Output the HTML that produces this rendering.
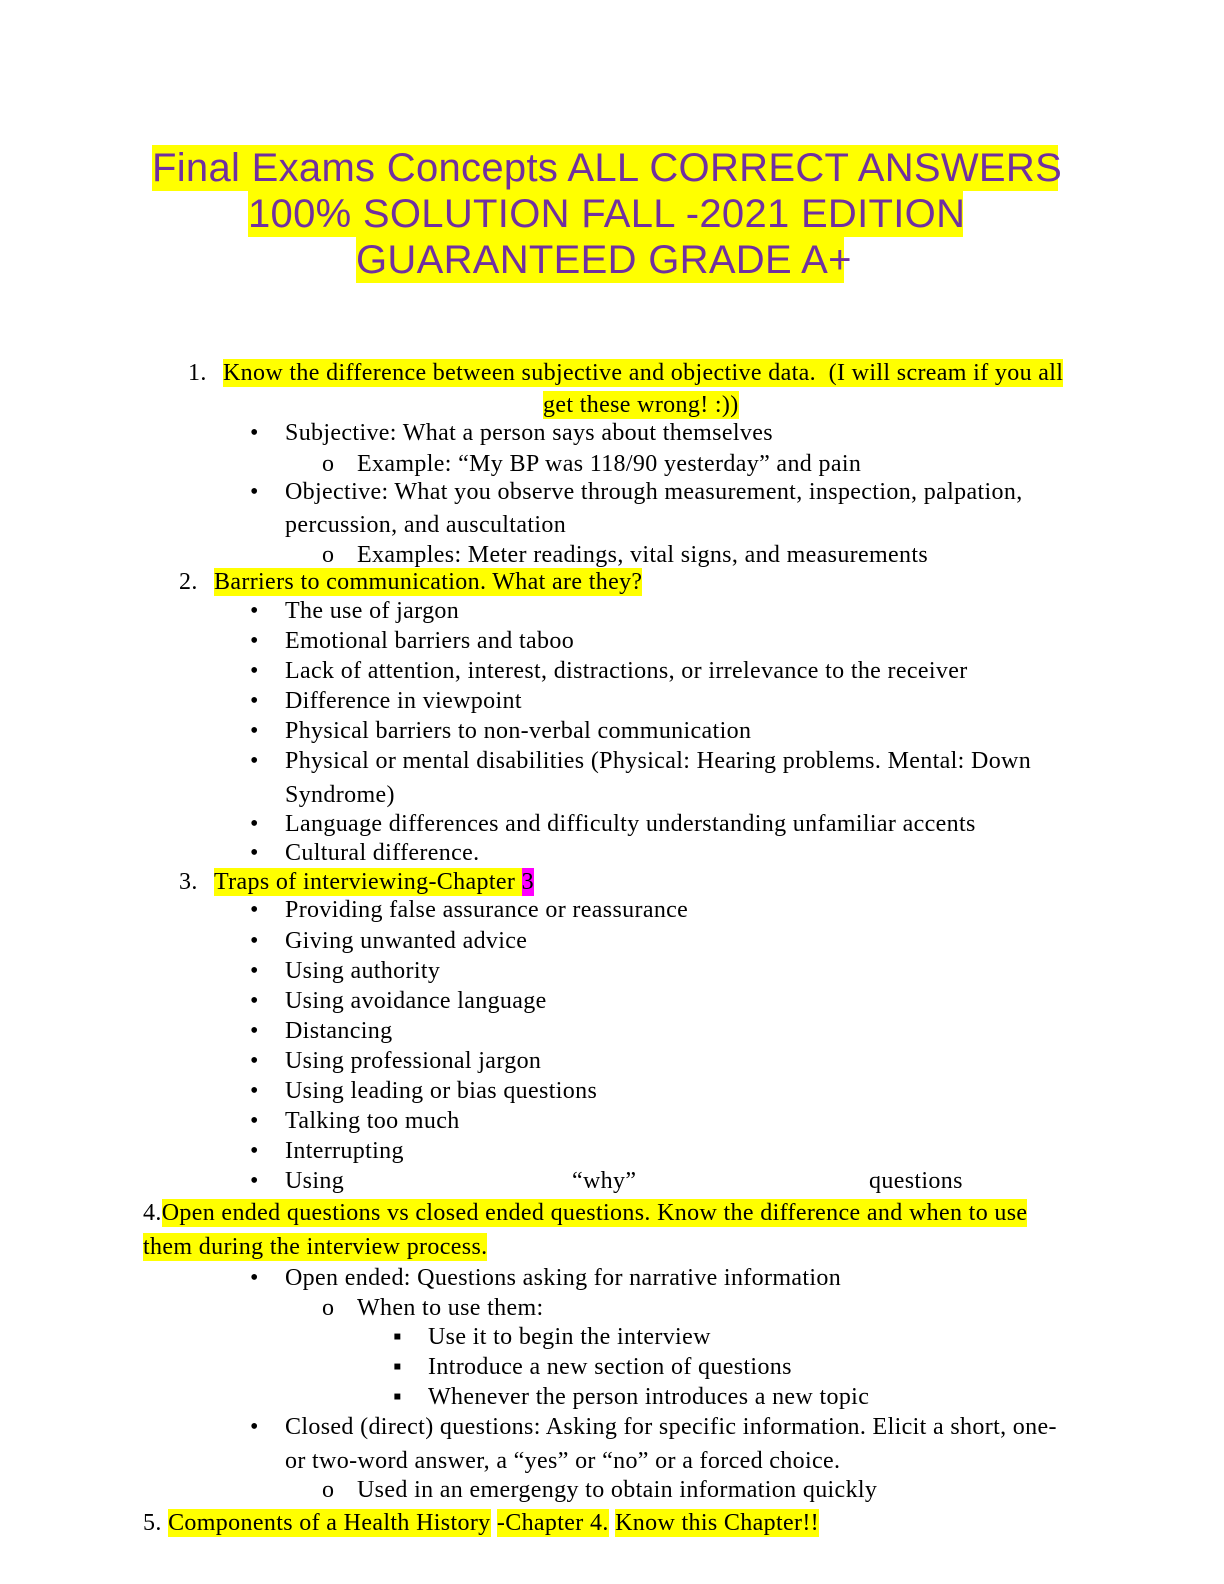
<!DOCTYPE html>
<html><head><meta charset="utf-8">
<style>
html,body{margin:0;padding:0;background:#fff;}
body{width:1224px;height:1584px;position:relative;overflow:hidden;}
.t{position:absolute;font-family:"Liberation Sans",sans-serif;font-size:40px;letter-spacing:0.3px;color:#7030A0;background:#ffff00;height:46px;line-height:46px;white-space:nowrap;margin-top:1px;}
.l{position:absolute;font-family:"Liberation Serif",serif;font-size:24px;letter-spacing:0.35px;color:#000;line-height:28px;height:28px;white-space:nowrap;margin-top:4px;}
.h{background:#ffff00;padding:1px 0;}
.m{background:#ff00ff;padding:1px 0;}
</style></head><body>
<div class="t" style="left:152px;top:144px;width:906px;text-align:center">Final Exams Concepts ALL CORRECT ANSWERS</div>
<div class="t" style="left:248px;top:190px;width:715px;text-align:center">100% SOLUTION FALL -2021 EDITION</div>
<div class="t" style="left:356px;top:236px;width:488px;text-align:center">GUARANTEED GRADE A+</div>

<div class="l" style="left:188px;top:355px">1.</div>
<div class="l" style="left:223px;top:355px"><span class="h">Know the difference between subjective and objective data.&nbsp; (I will scream if you all</span></div>
<div class="l" style="left:543px;top:387px"><span class="h">get these wrong! :))</span></div>
<div class="l" style="left:250px;top:415px">•</div><div class="l" style="left:285px;top:415px">Subjective: What a person says about themselves</div>
<div class="l" style="left:322px;top:446px">o</div><div class="l" style="left:357px;top:446px">Example: “My BP was 118/90 yesterday” and pain</div>
<div class="l" style="left:250px;top:474px">•</div><div class="l" style="left:285px;top:474px">Objective: What you observe through measurement, inspection, palpation,</div>
<div class="l" style="left:285px;top:507px">percussion, and auscultation</div>
<div class="l" style="left:322px;top:537px">o</div><div class="l" style="left:357px;top:537px">Examples: Meter readings, vital signs, and measurements</div>
<div class="l" style="left:179px;top:564px">2.</div><div class="l" style="left:214px;top:564px"><span class="h">Barriers to communication. What are they?</span></div>
<div class="l" style="left:250px;top:593px">•</div><div class="l" style="left:285px;top:593px">The use of jargon</div>
<div class="l" style="left:250px;top:623px">•</div><div class="l" style="left:285px;top:623px">Emotional barriers and taboo</div>
<div class="l" style="left:250px;top:653px">•</div><div class="l" style="left:285px;top:653px">Lack of attention, interest, distractions, or irrelevance to the receiver</div>
<div class="l" style="left:250px;top:683px">•</div><div class="l" style="left:285px;top:683px">Difference in viewpoint</div>
<div class="l" style="left:250px;top:713px">•</div><div class="l" style="left:285px;top:713px">Physical barriers to non-verbal communication</div>
<div class="l" style="left:250px;top:743px">•</div><div class="l" style="left:285px;top:743px">Physical or mental disabilities (Physical: Hearing problems. Mental: Down</div>
<div class="l" style="left:285px;top:777px">Syndrome)</div>
<div class="l" style="left:250px;top:806px">•</div><div class="l" style="left:285px;top:806px">Language differences and difficulty understanding unfamiliar accents</div>
<div class="l" style="left:250px;top:835px">•</div><div class="l" style="left:285px;top:835px">Cultural difference.</div>
<div class="l" style="left:179px;top:864px">3.</div><div class="l" style="left:214px;top:864px"><span class="h">Traps of interviewing-Chapter </span><span class="m">3</span></div>
<div class="l" style="left:250px;top:892px">•</div><div class="l" style="left:285px;top:892px">Providing false assurance or reassurance</div>
<div class="l" style="left:250px;top:923px">•</div><div class="l" style="left:285px;top:923px">Giving unwanted advice</div>
<div class="l" style="left:250px;top:953px">•</div><div class="l" style="left:285px;top:953px">Using authority</div>
<div class="l" style="left:250px;top:983px">•</div><div class="l" style="left:285px;top:983px">Using avoidance language</div>
<div class="l" style="left:250px;top:1013px">•</div><div class="l" style="left:285px;top:1013px">Distancing</div>
<div class="l" style="left:250px;top:1043px">•</div><div class="l" style="left:285px;top:1043px">Using professional jargon</div>
<div class="l" style="left:250px;top:1073px">•</div><div class="l" style="left:285px;top:1073px">Using leading or bias questions</div>
<div class="l" style="left:250px;top:1103px">•</div><div class="l" style="left:285px;top:1103px">Talking too much</div>
<div class="l" style="left:250px;top:1133px">•</div><div class="l" style="left:285px;top:1133px">Interrupting</div>
<div class="l" style="left:250px;top:1163px">•</div><div class="l" style="left:285px;top:1163px">Using</div>
<div class="l" style="left:572px;top:1163px">“why”</div>
<div class="l" style="left:869px;top:1163px">questions</div>
<div class="l" style="left:143px;top:1195px">4.<span class="h">Open ended questions vs closed ended questions. Know the difference and when to use</span></div>
<div class="l" style="left:143px;top:1229px"><span class="h">them during the interview process.</span></div>
<div class="l" style="left:250px;top:1260px">•</div><div class="l" style="left:285px;top:1260px">Open ended: Questions asking for narrative information</div>
<div class="l" style="left:322px;top:1290px">o</div><div class="l" style="left:357px;top:1290px">When to use them:</div>
<div class="l" style="left:393px;top:1319px">▪</div><div class="l" style="left:428px;top:1319px">Use it to begin the interview</div>
<div class="l" style="left:393px;top:1349px">▪</div><div class="l" style="left:428px;top:1349px">Introduce a new section of questions</div>
<div class="l" style="left:393px;top:1379px">▪</div><div class="l" style="left:428px;top:1379px">Whenever the person introduces a new topic</div>
<div class="l" style="left:250px;top:1409px">•</div><div class="l" style="left:285px;top:1409px">Closed (direct) questions: Asking for specific information. Elicit a short, one-</div>
<div class="l" style="left:285px;top:1443px">or two-word answer, a “yes” or “no” or a forced choice.</div>
<div class="l" style="left:322px;top:1472px">o</div><div class="l" style="left:357px;top:1472px">Used in an emergengy to obtain information quickly</div>
<div class="l" style="left:143px;top:1505px">5. <span class="h">Components of a Health History</span> <span class="h">-Chapter 4.</span> <span class="h">Know this Chapter!!</span></div>
</body></html>
